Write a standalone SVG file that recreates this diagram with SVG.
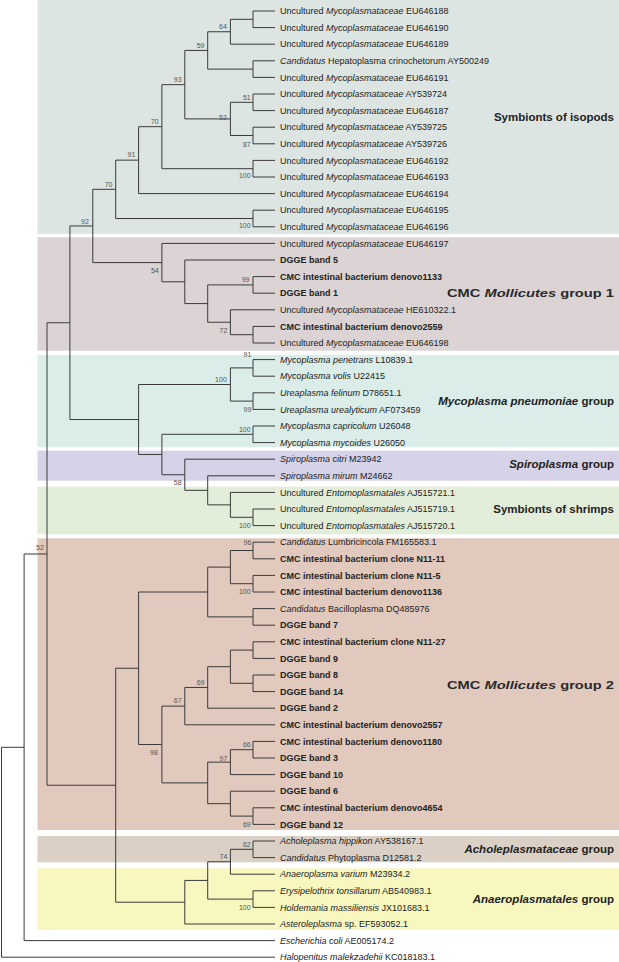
<svg xmlns="http://www.w3.org/2000/svg" width="619" height="962" viewBox="0 0 619 962">
<style>
.bg{fill:#ffffff}
.tree path{fill:none;stroke:#3a3a3a;stroke-width:1}
.leaf{font-family:"Liberation Sans",Arial,sans-serif;font-size:9px;fill:#222}
.b{font-weight:bold}
.i{font-style:italic}
.bs{font-family:"Liberation Sans",Arial,sans-serif;font-size:7px;fill:#555;text-anchor:end}
.grp{font-family:"Liberation Sans",Arial,sans-serif;font-size:11.5px;font-weight:bold;fill:#222;text-anchor:end}
.cmc{font-family:"Liberation Sans",Arial,sans-serif;font-size:11.5px;font-weight:bold;fill:#2a2a2a}
</style>
<rect class="bg" x="0" y="0" width="619" height="962"/>
<g id="panels">
<rect id="p-isopods" x="37.5" y="0" width="581.5" height="234" fill="#dde5e3"/>
<rect id="p-group1" x="37.5" y="237.3" width="581.5" height="113.4" fill="#dcd4d4"/>
<rect id="p-mpneu" x="37.5" y="355" width="581.5" height="92.3" fill="#daede9"/>
<rect id="p-spiro" x="37.5" y="450.7" width="581.5" height="30" fill="#d6d2e8"/>
<rect id="p-shrimps" x="37.5" y="486.7" width="581.5" height="47.6" fill="#e2eed9"/>
<rect id="p-group2" x="37.5" y="538.3" width="581.5" height="291.7" fill="#e2c9bd"/>
<rect id="p-achole" x="37.5" y="836" width="581.5" height="26.3" fill="#dad0c6"/>
<rect id="p-anaero" x="37.5" y="868.3" width="581.5" height="61.7" fill="#f8f7c0"/>
</g>
<g id="connectors" class="tree">
<path d="M275,11H253V27.6H275"/>
<path d="M253,19.3H230.4V44.2H275"/>
<path d="M275,60.8H253V77.4H275"/>
<path d="M230.4,31.75H207.7V69.1H253"/>
<path d="M275,94H253V110.6H275"/>
<path d="M275,127.2H253V143.8H275"/>
<path d="M253,102.3H230.4V135.5H253"/>
<path d="M207.7,50.43H184.8V118.9H230.4"/>
<path d="M275,160.4H253V177H275"/>
<path d="M184.8,84.66H161.9V168.7H253"/>
<path d="M161.9,126.68H138.6V193.6H275"/>
<path d="M275,210.2H253V226.8H275"/>
<path d="M138.6,160.14H115.7V218.5H253"/>
<path d="M275,276.6H253V293.2H275"/>
<path d="M275,326.4H253V343H275"/>
<path d="M275,309.8H230.4V334.7H253"/>
<path d="M253,284.9H207.7V322.25H230.4"/>
<path d="M275,260H184.8V303.58H207.7"/>
<path d="M275,243.4H161.9V281.79H184.8"/>
<path d="M115.7,189.32H92.8V262.6H161.9"/>
<path d="M275,359.6H253V376.2H275"/>
<path d="M275,392.8H253V409.4H275"/>
<path d="M253,367.9H230.4V401.1H253"/>
<path d="M275,426H253V442.6H275"/>
<path d="M275,509H253V525.6H275"/>
<path d="M275,492.4H230.4V517.3H253"/>
<path d="M275,475.8H207.7V504.85H230.4"/>
<path d="M275,459.2H184.8V490.33H207.7"/>
<path d="M253,434.3H161.9V474.76H184.8"/>
<path d="M230.4,384.5H138.6V454.53H161.9"/>
<path d="M92.8,225.96H69.9V419.52H138.6"/>
<path d="M275,542.2H253V558.8H275"/>
<path d="M275,575.4H253V592H275"/>
<path d="M253,550.5H230.4V583.7H253"/>
<path d="M275,608.6H253V625.2H275"/>
<path d="M230.4,567.1H207.7V616.9H253"/>
<path d="M275,641.8H253V658.4H275"/>
<path d="M275,675H253V691.6H275"/>
<path d="M253,650.1H230.4V683.3H253"/>
<path d="M230.4,666.7H207.7V708.2H275"/>
<path d="M207.7,687.45H184.8V724.8H275"/>
<path d="M275,741.4H253V758H275"/>
<path d="M253,749.7H230.4V774.6H275"/>
<path d="M275,807.8H253V824.4H275"/>
<path d="M275,791.2H230.4V816.1H253"/>
<path d="M230.4,762.15H207.7V803.65H230.4"/>
<path d="M184.8,706.13H161.9V782.9H207.7"/>
<path d="M207.7,592H138.6V744.52H161.9"/>
<path d="M275,841H253V857.6H275"/>
<path d="M253,849.3H230.4V874.2H275"/>
<path d="M275,890.8H253V907.4H275"/>
<path d="M230.4,861.75H207.7V899.1H253"/>
<path d="M207.7,880.43H184.8V924H275"/>
<path d="M138.6,668.26H115.7V902.21H184.8"/>
<path d="M69.9,322.74H47V785.24H115.7"/>
<path d="M47,553.99H24.1V940.6H275"/>
<path d="M24.1,747.3H1.5V957.2H275"/>
</g>
<g id="bootstrap">
<text class="bs" x="226.9" y="29.2">64</text>
<text class="bs" x="204.5" y="48.2">59</text>
<text class="bs" x="181.6" y="81.8">93</text>
<text class="bs" x="250.7" y="99.8">51</text>
<text class="bs" x="226.9" y="119.8">52</text>
<text class="bs" x="250.7" y="146.8">87</text>
<text class="bs" x="158.7" y="124.2">70</text>
<text class="bs" x="135.4" y="156.8">91</text>
<text class="bs" x="250.6" y="178.2">100</text>
<text class="bs" x="112.5" y="186.8">70</text>
<text class="bs" x="250.6" y="228.2">100</text>
<text class="bs" x="88.8" y="223.5">92</text>
<text class="bs" x="158.7" y="272.5">54</text>
<text class="bs" x="249.5" y="281.5">99</text>
<text class="bs" x="227.4" y="332.5">72</text>
<text class="bs" x="251.4" y="356.8">91</text>
<text class="bs" x="226.8" y="381.8">100</text>
<text class="bs" x="251.4" y="411.8">99</text>
<text class="bs" x="250.6" y="431.8">100</text>
<text class="bs" x="181.6" y="484.8">58</text>
<text class="bs" x="250.6" y="527.5">100</text>
<text class="bs" x="43.9" y="549.5">52</text>
<text class="bs" x="251.4" y="544.8">96</text>
<text class="bs" x="250.6" y="594.2">100</text>
<text class="bs" x="204.5" y="684.8">69</text>
<text class="bs" x="181.6" y="703.2">67</text>
<text class="bs" x="250.7" y="746.8">66</text>
<text class="bs" x="227.4" y="760.8">97</text>
<text class="bs" x="157.9" y="754.8">98</text>
<text class="bs" x="250.7" y="826.5">69</text>
<text class="bs" x="250.7" y="846.5">62</text>
<text class="bs" x="227.4" y="859.2">74</text>
<text class="bs" x="250.6" y="909.8">100</text>
</g>
<g id="leaves">
<g id="t00"><text class="leaf" x="280" y="14.2">Uncultured <tspan class="i">Mycoplasmataceae</tspan> EU646188</text></g>
<g id="t01"><text class="leaf" x="280" y="30.8">Uncultured <tspan class="i">Mycoplasmataceae</tspan> EU646190</text></g>
<g id="t02"><text class="leaf" x="280" y="47.4">Uncultured <tspan class="i">Mycoplasmataceae</tspan> EU646189</text></g>
<g id="t03"><text class="leaf" x="280" y="64"><tspan class="i">Candidatus</tspan> Hepatoplasma crinochetorum AY500249</text></g>
<g id="t04"><text class="leaf" x="280" y="80.6">Uncultured <tspan class="i">Mycoplasmataceae</tspan> EU646191</text></g>
<g id="t05"><text class="leaf" x="280" y="97.2">Uncultured <tspan class="i">Mycoplasmataceae</tspan> AY539724</text></g>
<g id="t06"><text class="leaf" x="280" y="113.8">Uncultured <tspan class="i">Mycoplasmataceae</tspan> EU646187</text></g>
<g id="t07"><text class="leaf" x="280" y="130.4">Uncultured <tspan class="i">Mycoplasmataceae</tspan> AY539725</text></g>
<g id="t08"><text class="leaf" x="280" y="147">Uncultured <tspan class="i">Mycoplasmataceae</tspan> AY539726</text></g>
<g id="t09"><text class="leaf" x="280" y="163.6">Uncultured <tspan class="i">Mycoplasmataceae</tspan> EU646192</text></g>
<g id="t10"><text class="leaf" x="280" y="180.2">Uncultured <tspan class="i">Mycoplasmataceae</tspan> EU646193</text></g>
<g id="t11"><text class="leaf" x="280" y="196.8">Uncultured <tspan class="i">Mycoplasmataceae</tspan> EU646194</text></g>
<g id="t12"><text class="leaf" x="280" y="213.4">Uncultured <tspan class="i">Mycoplasmataceae</tspan> EU646195</text></g>
<g id="t13"><text class="leaf" x="280" y="230">Uncultured <tspan class="i">Mycoplasmataceae</tspan> EU646196</text></g>
<g id="t14"><text class="leaf" x="280" y="246.6">Uncultured <tspan class="i">Mycoplasmataceae</tspan> EU646197</text></g>
<g id="t15"><text class="leaf b" x="280" y="263.2">DGGE band 5</text></g>
<g id="t16"><text class="leaf b" x="280" y="279.8">CMC intestinal bacterium denovo1133</text></g>
<g id="t17"><text class="leaf b" x="280" y="296.4">DGGE band 1</text></g>
<g id="t18"><text class="leaf" x="280" y="313">Uncultured <tspan class="i">Mycoplasmataceae</tspan> HE610322.1</text></g>
<g id="t19"><text class="leaf b" x="280" y="329.6">CMC intestinal bacterium denovo2559</text></g>
<g id="t20"><text class="leaf" x="280" y="346.2">Uncultured <tspan class="i">Mycoplasmataceae</tspan> EU646198</text></g>
<g id="t21"><text class="leaf" x="280" y="362.8"><tspan class="i">Mycoplasma penetrans</tspan> L10839.1</text></g>
<g id="t22"><text class="leaf" x="280" y="379.4"><tspan class="i">Mycoplasma volis</tspan> U22415</text></g>
<g id="t23"><text class="leaf" x="280" y="396"><tspan class="i">Ureaplasma felinum</tspan> D78651.1</text></g>
<g id="t24"><text class="leaf" x="280" y="412.6"><tspan class="i">Ureaplasma urealyticum</tspan> AF073459</text></g>
<g id="t25"><text class="leaf" x="280" y="429.2"><tspan class="i">Mycoplasma capricolum</tspan> U26048</text></g>
<g id="t26"><text class="leaf" x="280" y="445.8"><tspan class="i">Mycoplasma mycoides</tspan> U26050</text></g>
<g id="t27"><text class="leaf" x="280" y="462.4"><tspan class="i">Spiroplasma citri</tspan> M23942</text></g>
<g id="t28"><text class="leaf" x="280" y="479"><tspan class="i">Spiroplasma mirum</tspan> M24662</text></g>
<g id="t29"><text class="leaf" x="280" y="495.6">Uncultured <tspan class="i">Entomoplasmatales</tspan> AJ515721.1</text></g>
<g id="t30"><text class="leaf" x="280" y="512.2">Uncultured <tspan class="i">Entomoplasmatales</tspan> AJ515719.1</text></g>
<g id="t31"><text class="leaf" x="280" y="528.8">Uncultured <tspan class="i">Entomoplasmatales</tspan> AJ515720.1</text></g>
<g id="t32"><text class="leaf" x="280" y="545.4"><tspan class="i">Candidatus</tspan> Lumbricincola FM165583.1</text></g>
<g id="t33"><text class="leaf b" x="280" y="562">CMC intestinal bacterium clone N11-11</text></g>
<g id="t34"><text class="leaf b" x="280" y="578.6">CMC intestinal bacterium clone N11-5</text></g>
<g id="t35"><text class="leaf b" x="280" y="595.2">CMC intestinal bacterium denovo1136</text></g>
<g id="t36"><text class="leaf" x="280" y="611.8"><tspan class="i">Candidatus</tspan> Bacilloplasma DQ485976</text></g>
<g id="t37"><text class="leaf b" x="280" y="628.4">DGGE band 7</text></g>
<g id="t38"><text class="leaf b" x="280" y="645">CMC intestinal bacterium clone N11-27</text></g>
<g id="t39"><text class="leaf b" x="280" y="661.6">DGGE band 9</text></g>
<g id="t40"><text class="leaf b" x="280" y="678.2">DGGE band 8</text></g>
<g id="t41"><text class="leaf b" x="280" y="694.8">DGGE band 14</text></g>
<g id="t42"><text class="leaf b" x="280" y="711.4">DGGE band 2</text></g>
<g id="t43"><text class="leaf b" x="280" y="728">CMC intestinal bacterium denovo2557</text></g>
<g id="t44"><text class="leaf b" x="280" y="744.6">CMC intestinal bacterium denovo1180</text></g>
<g id="t45"><text class="leaf b" x="280" y="761.2">DGGE band 3</text></g>
<g id="t46"><text class="leaf b" x="280" y="777.8">DGGE band 10</text></g>
<g id="t47"><text class="leaf b" x="280" y="794.4">DGGE band 6</text></g>
<g id="t48"><text class="leaf b" x="280" y="811">CMC intestinal bacterium denovo4654</text></g>
<g id="t49"><text class="leaf b" x="280" y="827.6">DGGE band 12</text></g>
<g id="t50"><text class="leaf" x="280" y="844.2"><tspan class="i">Acholeplasma hippikon</tspan> AY538167.1</text></g>
<g id="t51"><text class="leaf" x="280" y="860.8"><tspan class="i">Candidatus</tspan> Phytoplasma D12581.2</text></g>
<g id="t52"><text class="leaf" x="280" y="877.4"><tspan class="i">Anaeroplasma varium</tspan> M23934.2</text></g>
<g id="t53"><text class="leaf" x="280" y="894"><tspan class="i">Erysipelothrix tonsillarum</tspan> AB540983.1</text></g>
<g id="t54"><text class="leaf" x="280" y="910.6"><tspan class="i">Holdemania massiliensis</tspan> JX101683.1</text></g>
<g id="t55"><text class="leaf" x="280" y="927.2"><tspan class="i">Asteroleplasma</tspan> sp. EF593052.1</text></g>
<g id="t56"><text class="leaf" x="280" y="943.8"><tspan class="i">Escherichia coli</tspan> AE005174.2</text></g>
<g id="t57"><text class="leaf" x="280" y="960.4"><tspan class="i">Halopenitus malekzadehii</tspan> KC018183.1</text></g>
</g>
<g id="groups">
<g id="g-isopods"><text class="grp" x="614" y="120.7">Symbionts of isopods</text></g>
<g id="g-group1"><text class="cmc" x="447" y="296.8" textLength="167" lengthAdjust="spacingAndGlyphs">CMC <tspan class="i">Mollicutes</tspan> group 1</text></g>
<g id="g-mpneu"><text class="grp" x="614" y="405"><tspan class="i">Mycoplasma pneumoniae</tspan> group</text></g>
<g id="g-spiro"><text class="grp" x="614" y="468"><tspan class="i">Spiroplasma</tspan> group</text></g>
<g id="g-shrimps"><text class="grp" x="614" y="513">Symbionts of shrimps</text></g>
<g id="g-group2"><text class="cmc" x="447" y="689" textLength="167" lengthAdjust="spacingAndGlyphs">CMC <tspan class="i">Mollicutes</tspan> group 2</text></g>
<g id="g-achole"><text class="grp" x="614" y="853"><tspan class="i">Acholeplasmataceae</tspan> group</text></g>
<g id="g-anaero"><text class="grp" x="614" y="903"><tspan class="i">Anaeroplasmatales</tspan> group</text></g>
</g>
</svg>
